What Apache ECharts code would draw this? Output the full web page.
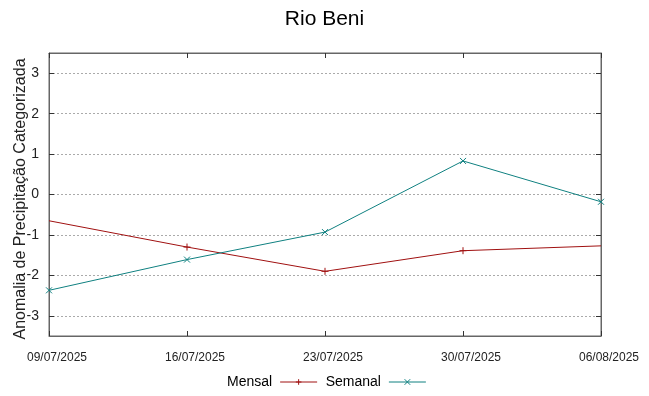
<!DOCTYPE html>
<html><head><meta charset="utf-8">
<script src="https://cdn.jsdelivr.net/npm/echarts@6/dist/echarts.min.js"></script>
<style>html,body{margin:0;padding:0;background:#fff}#c{width:649px;height:396px}</style>
</head><body><div id="c"></div>
<script>
const categories = ['09/07/2025','16/07/2025','23/07/2025','30/07/2025','06/08/2025'];
const mensal = [-0.65, -1.30, -1.90, -1.39, -1.27];
const semanal = [-2.37, -1.61, -0.93, 0.83, -0.18];
const yTicks = [-3,-2,-1,0,1,2,3];
const title = 'Rio Beni';
const yName = 'Anomalia de Precipitação Categorizada';

const plus = 'path://M0,5L10,5M5,0L5,10';
const cross = 'path://M0,0L10,10M10,0L0,10';
const cM = '#a01010', cS = '#0f8080';
const font = 'Liberation Sans, Arial, sans-serif';

const chart = echarts.init(document.getElementById('c'));
const mData = mensal.map((v,i)=> (i===0||i===mensal.length-1) ? {value:v, symbol:'none'} : v);
chart.setOption({
  animation:false,
  title:{text:title,left:'center',top:4,textStyle:{fontFamily:font,fontSize:21,fontWeight:'normal',color:'#000'}},
  grid:{left:49,right:48,top:53,bottom:60,show:true,borderColor:'#666',borderWidth:1,containLabel:false,outerBoundsMode:'none'},
  legend:{bottom:2,left:222,align:'right',itemWidth:37,itemHeight:7,itemGap:8,
    lineStyle:{width:1},itemStyle:{borderWidth:1},
    textStyle:{fontFamily:font,fontSize:14,color:'#000',padding:[0,3,0,0]},
    data:[{name:'Mensal'},{name:'Semanal'}]},
  xAxis:[{type:'category',data:categories,boundaryGap:false,
    axisLine:{onZero:false,lineStyle:{color:'#666'}},
    axisTick:{inside:true,length:5,lineStyle:{color:'#333'}},
    axisLabel:{fontFamily:font,fontSize:12,color:'#222',margin:16,padding:[0,0,0,16],
      formatter:v=>v, alignMinLabel:'center', alignMaxLabel:'center'},
    splitLine:{show:false}},
   {type:'category',data:categories,boundaryGap:false,position:'top',
    axisLine:{onZero:false,lineStyle:{color:'#666'}},
    axisTick:{inside:true,length:5,lineStyle:{color:'#333'}},
    axisLabel:{show:false},splitLine:{show:false}}],
  yAxis:[{type:'value',min:-3.5,max:3.5,
    name:yName,nameLocation:'middle',nameGap:20,nameMoveOverlap:false,
    nameTextStyle:{fontFamily:font,fontSize:16,color:'#222',padding:[0,9,0,0]},
    axisLine:{show:true,onZero:false,lineStyle:{color:'#666'}},
    axisTick:{show:true,inside:true,length:5,customValues:yTicks,lineStyle:{color:'#333'}},
    axisLabel:{customValues:yTicks,fontFamily:font,fontSize:14,color:'#222',margin:10},
    splitLine:{show:true,lineStyle:{color:'#aaa',type:[2,2]}}},
   {type:'value',min:-3.5,max:3.5,position:'right',
    axisLine:{show:true,onZero:false,lineStyle:{color:'#666'}},
    axisTick:{show:true,inside:true,length:5,customValues:yTicks,lineStyle:{color:'#333'}},
    axisLabel:{show:false},splitLine:{show:false}}],
  series:[
    {name:'Mensal',type:'line',data:mData,symbol:plus,symbolSize:7,showAllSymbol:true,
      lineStyle:{color:cM,width:1},itemStyle:{color:cM,borderColor:cM,borderWidth:1}},
    {name:'Semanal',type:'line',data:semanal,symbol:cross,symbolSize:6,showAllSymbol:true,
      lineStyle:{color:cS,width:1},itemStyle:{color:cS,borderColor:cS,borderWidth:1}}
  ]
});
</script></body></html>
